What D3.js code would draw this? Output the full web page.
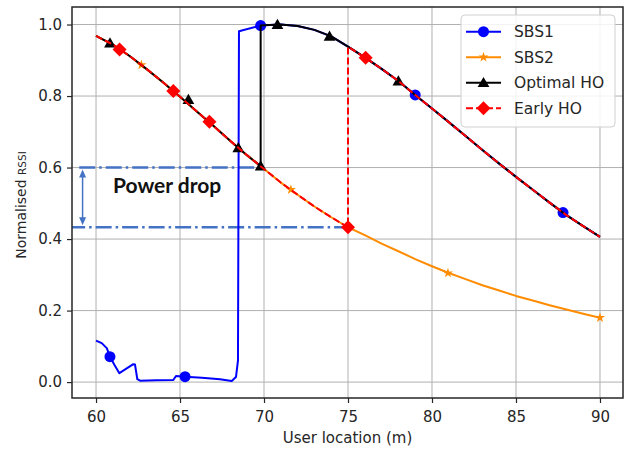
<!DOCTYPE html>
<html><head><meta charset="utf-8">
<script src="https://cdn.jsdelivr.net/npm/d3@7"></script>
<style>body{margin:0;background:#fff}svg{display:block}</style>
</head><body><svg id="c" width="626" height="453"></svg>
<script>
// ---- data ----
const sbs1X = [60,60.34,60.64,60.83,61.1,61.39,62.22,62.32,62.46,62.62,63.6,64.6,64.76,65.3,66.3,67.38,68.08,68.33,68.45,68.51,69.8,70,71,72,73,74,75,76,77,78,79,80,81,82,83,84,85,86,87,88,89,90];
const sbs1Y = [0.116,0.109,0.095,0.071,0.048,0.025,0.050,0.049,0.008,0.004,0.005,0.006,0.017,0.015,0.012,0.008,0.003,0.014,0.06,0.981,0.997,0.998,1.0,0.996,0.985,0.967,0.938,0.908,0.876,0.842,0.803,0.765,0.727,0.688,0.649,0.611,0.574,0.538,0.502,0.467,0.436,0.406];
const sbs2X = [60,61,62,63,64,65,66,67,68,69,70,71,72,73,74,75,76,77,78,79,80,81,82,83,84,85,86,87,88,89,90];
const sbs2Y = [0.968,0.944,0.912,0.876,0.838,0.798,0.757,0.716,0.674,0.634,0.596,0.558,0.524,0.491,0.461,0.433,0.411,0.387,0.366,0.344,0.324,0.305,0.288,0.271,0.256,0.241,0.228,0.215,0.203,0.191,0.180];
// handover points: [location, value before, value after]
const optimalHO = [69.8, 0.604, 0.997];
const earlyHO = [75, 0.433, 0.938];
const sbs1MarkX = [60.83,65.3,69.8,79.0,87.8];
const sbs1MarkY = [0.071,0.015,0.997,0.803,0.474];
const sbs2MarkX = [62.7,71.6,80.95,90];
const sbs2MarkY = [0.887,0.538,0.305,0.18];
const optMarkX = [60.83,65.5,68.47,69.8,70.8,73.9,78.0];
const optMarkY = [0.948,0.79,0.655,0.604,1.0,0.967,0.842];
const earlyMarkX = [61.4,64.6,66.75,75,76.05];
const earlyMarkY = [0.93,0.814,0.728,0.433,0.907];
const powerDrop = [0.6, 0.433]; // levels
const xTicks = [60,65,70,75,80,85,90];
const yTicks = [0.0,0.2,0.4,0.6,0.8,1.0];
const seriesNames = ["SBS1","SBS2","Optimal HO","Early HO"];

// ---- layout ----
const L=72,R=623,T=7,B=398;
const svg = d3.select("#c");
const x = d3.scaleLinear().domain([58.57,91.37]).range([L,R]);
const y = d3.scaleLinear().domain([-0.0445,1.049]).range([B,T]);
const font = "'DejaVu Sans', sans-serif";

svg.append("defs").append("clipPath").attr("id","clip")
  .append("rect").attr("x",L).attr("y",T).attr("width",R-L).attr("height",B-T);

// grid
const g = svg.append("g");
g.selectAll(".gx").data(xTicks).join("line")
  .attr("x1",d=>x(d)).attr("x2",d=>x(d)).attr("y1",T).attr("y2",B)
  .attr("stroke","#b0b0b0").attr("stroke-width",1);
g.selectAll(".gy").data(yTicks).join("line")
  .attr("y1",d=>y(d)).attr("y2",d=>y(d)).attr("x1",L).attr("x2",R)
  .attr("stroke","#b0b0b0").attr("stroke-width",1);

const plot = svg.append("g").attr("clip-path","url(#clip)");
const zip = (xs,ys)=>xs.map((v,i)=>[v,ys[i]]);
const line = d3.line().x(d=>x(d[0])).y(d=>y(d[1]));

// power drop annotation
const annC = "#4472c4";
plot.append("line").attr("x1",x(59)).attr("x2",x(optimalHO[0])).attr("y1",y(powerDrop[0])).attr("y2",y(powerDrop[0]))
  .attr("stroke",annC).attr("stroke-width",2.5).attr("stroke-dasharray","16,4,2.5,4");
plot.append("line").attr("x1",x(58.4)).attr("x2",x(earlyHO[0])).attr("y1",y(powerDrop[1])).attr("y2",y(powerDrop[1]))
  .attr("stroke",annC).attr("stroke-width",2.5).attr("stroke-dasharray","16,4,2.5,4");
const ax = x(59.2), ay1 = y(powerDrop[0])+2, ay2 = y(powerDrop[1])-2;
plot.append("line").attr("x1",ax).attr("x2",ax).attr("y1",ay1+6).attr("y2",ay2-6).attr("stroke",annC).attr("stroke-width",1.5);
plot.append("path").attr("d",`M${ax},${ay1} L${ax-3.5},${ay1+8} L${ax+3.5},${ay1+8}Z`).attr("fill",annC);
plot.append("path").attr("d",`M${ax},${ay2} L${ax-3.5},${ay2-8} L${ax+3.5},${ay2-8}Z`).attr("fill",annC);
svg.append("text").attr("x",113).attr("y",193).text("Power drop")
  .attr("font-family","Lato, sans-serif").attr("font-weight",700).attr("font-size",21).attr("fill","#111");

// series
const sbs1 = zip(sbs1X,sbs1Y), sbs2 = zip(sbs2X,sbs2Y);
const optimal = sbs2.filter(d=>d[0]<optimalHO[0]).concat([[optimalHO[0],optimalHO[1]],[optimalHO[0],optimalHO[2]]], sbs1.filter(d=>d[0]>optimalHO[0]));
const early = sbs2.filter(d=>d[0]<earlyHO[0]).concat([[earlyHO[0],earlyHO[1]],[earlyHO[0],earlyHO[2]]], sbs1.filter(d=>d[0]>earlyHO[0]));

const colors = ["#0000ff","#ff8c00","#000000","#ff0000"];
const sym = {
  circle: (s)=>d3.symbol(d3.symbolCircle, 95)(),
  star: ()=>d3.symbol(d3.symbolStar, 32)(),
  tri: ()=>d3.symbol(d3.symbolTriangle, 60)(),
  diamond: ()=>"M0,-7L7,0L0,7L-7,0Z"
};
const markerKinds = ["circle","star","tri","diamond"];
function drawSeries(data, mx, my, i, dash){
  plot.append("path").attr("d",line(data)).attr("fill","none").attr("stroke",colors[i])
    .attr("stroke-width",2).attr("stroke-dasharray",dash||null).attr("stroke-linejoin","round");
  plot.selectAll(null).data(zip(mx,my)).join("path")
    .attr("transform",d=>`translate(${x(d[0])},${y(d[1])+(markerKinds[i]==="tri"?1:0)})`)
    .attr("d",sym[markerKinds[i]]()).attr("fill",colors[i]);
}
drawSeries(sbs1, sbs1MarkX, sbs1MarkY, 0);
drawSeries(sbs2, sbs2MarkX, sbs2MarkY, 1);
drawSeries(optimal, optMarkX, optMarkY, 2);
drawSeries(early, earlyMarkX, earlyMarkY, 3, "7,3");

// axes frame
svg.append("rect").attr("x",L).attr("y",T).attr("width",R-L).attr("height",B-T)
  .attr("fill","none").attr("stroke","#262626").attr("stroke-width",1.5);
const xa = svg.append("g").attr("transform",`translate(0,${B})`)
  .call(d3.axisBottom(x).tickValues(xTicks).tickSize(5).tickPadding(5).tickFormat(d3.format("d")));
const ya = svg.append("g").attr("transform",`translate(${L},0)`)
  .call(d3.axisLeft(y).tickValues(yTicks).tickSize(5).tickPadding(5).tickFormat(d3.format(".1f")));
[xa,ya].forEach(a=>{
  a.select(".domain").remove();
  a.selectAll("line").attr("stroke","#262626").attr("stroke-width",1.2);
  a.selectAll("text").attr("font-family",font).attr("font-size",15).attr("fill","#262626");
});
xa.selectAll("text").attr("dy","0.9em");

svg.append("text").attr("x",(L+R)/2).attr("y",443).attr("text-anchor","middle")
  .attr("font-family",font).attr("font-size",15).attr("fill","#262626").text("User location (m)");
const yl = svg.append("text").attr("transform","translate(26,205) rotate(-90)").attr("text-anchor","middle")
  .attr("font-family",font).attr("fill","#262626");
yl.append("tspan").attr("font-size",14).text("Normalised ");
yl.append("tspan").attr("font-size",10.5).text("RSSI");

// legend
const lg = svg.append("g");
lg.append("rect").attr("x",461).attr("y",15).attr("width",154).attr("height",112).attr("rx",4)
  .attr("fill","#fff").attr("fill-opacity",0.85).attr("stroke","#d0d0d0");
seriesNames.forEach((n,i)=>{
  const cy = 31.7 + i*25.5;
  lg.append("line").attr("x1",466).attr("x2",501).attr("y1",cy).attr("y2",cy)
    .attr("stroke",colors[i]).attr("stroke-width",2).attr("stroke-dasharray",i===3?"7,3":null);
  lg.append("path").attr("transform",`translate(483.5,${cy+(markerKinds[i]==="tri"?1:0)})`).attr("d",sym[markerKinds[i]]()).attr("fill",colors[i]);
  lg.append("text").attr("x",514).attr("y",cy+5.5).text(n)
    .attr("font-family",font).attr("font-size",15.5).attr("fill","#262626");
});
</script></body></html>
